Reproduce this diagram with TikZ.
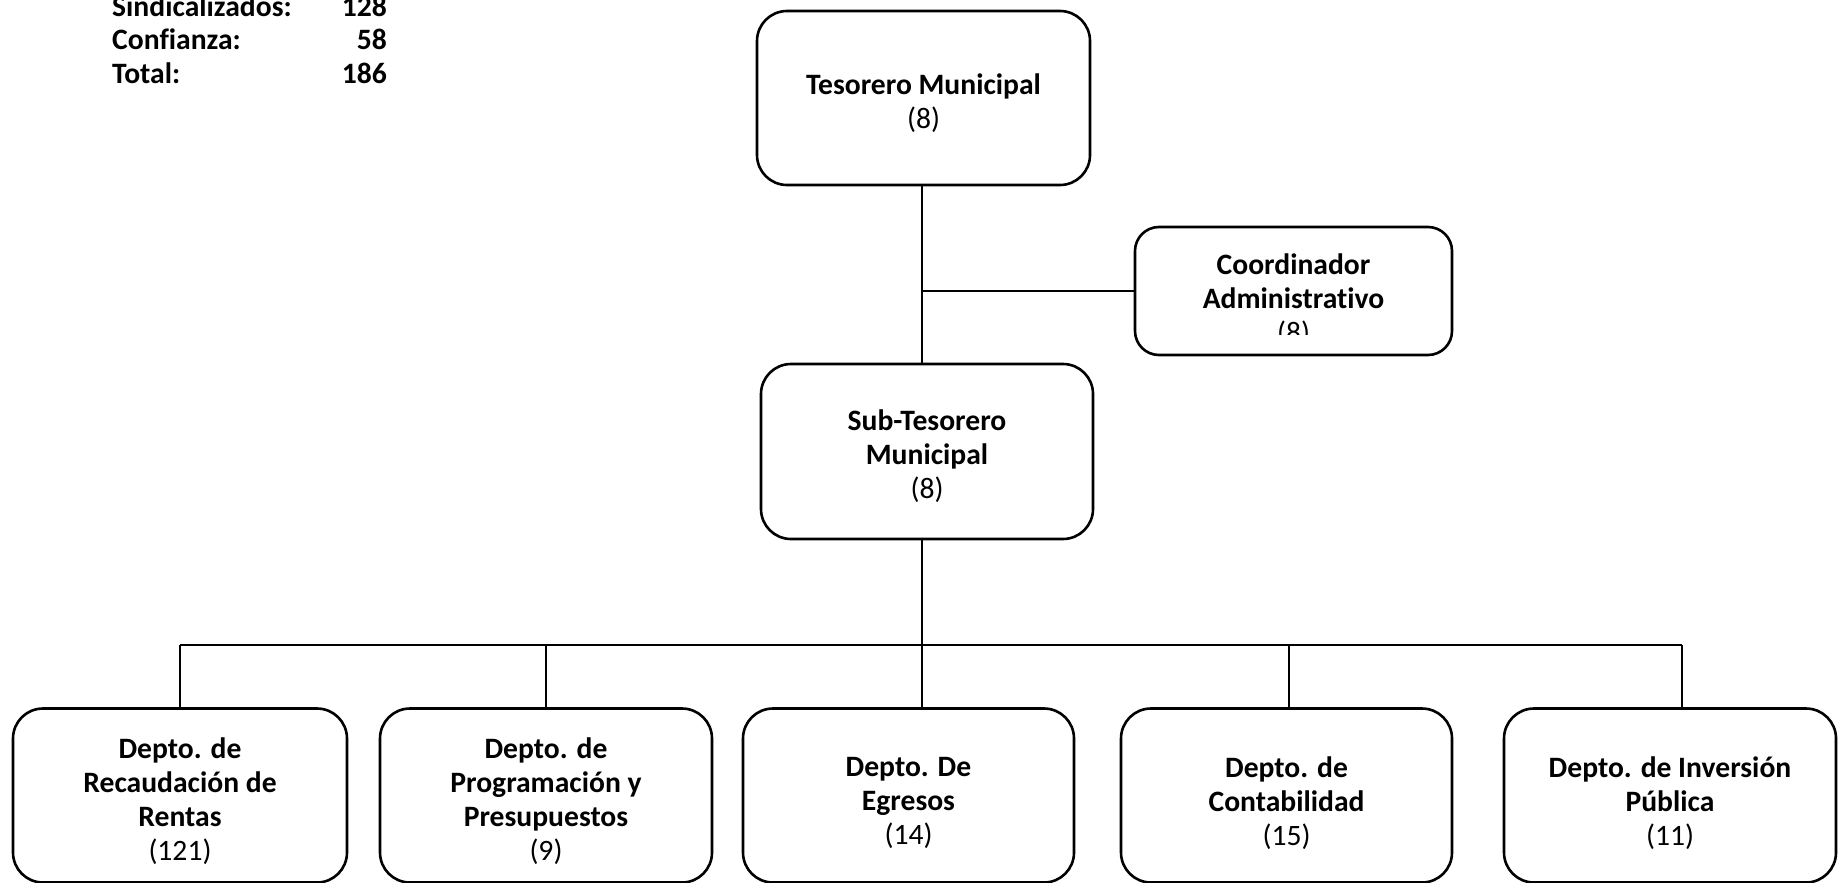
\documentclass[tikz,border=0pt]{standalone}
\usepackage{fontspec}
\setmainfont{Carlito}[Ligatures=NoCommon]
% keep letter pairs that Carlito would join apart
\newcommand{\nolig}{\kern0pt{}}
\begin{document}
\begin{tikzpicture}[x=1pt,y=-1pt,
  box/.style={draw,line width=2.6pt,rounded corners=30pt,inner sep=0pt,
              minimum width=332pt,minimum height=174pt},
  smallbox/.style={draw,line width=2.6pt,rounded corners=24pt,inner sep=0pt,
              minimum width=317pt,minimum height=128pt},
  lbl/.style={align=center,inner sep=0pt,font=\fontsize{29.6}{34}\selectfont},
  tally/.style={inner sep=0pt,font=\fontsize{29.6}{34}\selectfont\bfseries},
  link/.style={line width=2.6pt}]
\useasboundingbox (0,0) rectangle (1841,883);

% staff tally
\node[tally,anchor=base west] (sindL) at (112,17) {Sindicalizados:};
\node[tally,anchor=base east] (sindN) at (387,17) {128};
\node[tally,anchor=base west] (confL) at (112,50) {Conf\nolig ianza:};
\node[tally,anchor=base east] (confN) at (387,50) {58};
\node[tally,anchor=base west] (totL) at (112,83) {Total:};
\node[tally,anchor=base east] (totN) at (387,83) {186};

% trunk line position
\coordinate (trunk) at (922,0);

% top levels
\node[box,minimum width=333pt] (tes) at (923.5,98) {};
\node[lbl] (tesT) at (923.5,103) {\textbf{Tesorero Municipal}\\(8)};

\node[smallbox] (coord) at (1293.5,291) {};
\begin{scope}
  \clip (1135,227) rectangle (1452,334);
  \node[lbl] (coordT) at (1293.5,300) {\textbf{Coordinador}\\\textbf{Administrat\nolig ivo}\\(8)};
\end{scope}

\node[box,minimum height=175pt] (sub) at (927,451.5) {};
\node[lbl] (subT) at (927,456) {\textbf{Sub-Tesorero}\\\textbf{Municipal}\\(8)};

% departments
\node[box,minimum width=334pt] (d1) at (180,795.5) {};
\node[box] (d2) at (546,795.5) {};
\node[box,minimum width=331pt] (d3) at (908.5,795.5) {};
\node[box,minimum width=331pt] (d4) at (1286.5,795.5) {};
\node[box] (d5) at (1670,795.5) {};

\node[lbl] (d1T) at (180,801) {\textbf{Depto. de}\\\textbf{Recaudación de}\\\textbf{Rentas}\\(121)};
\node[lbl] (d2T) at (546,801) {\textbf{Depto. de}\\\textbf{Programación y}\\\textbf{Presupuestos}\\(9)};
\node[lbl] (d3T) at (908.5,803) {\textbf{Depto. De}\\\textbf{Egresos}\\(14)};
\node[lbl] (d4T) at (1286.5,803) {\textbf{Depto. de}\\\textbf{Contabilidad}\\(15)};
\node[lbl] (d5T) at (1670,803) {\textbf{Depto. de Inversión}\\\textbf{Pública}\\(11)};

% connectors
\coordinate (bus) at (0,645);
\coordinate (x1) at (180,0);
\coordinate (x2) at (546,0);
\coordinate (x4) at (1289,0);
\coordinate (x5) at (1682,0);

\draw[link] (tes.south -| trunk) -- (sub.north -| trunk);
\draw[link] (coord.west -| trunk) -- (coord.west);
\draw[link] (sub.south -| trunk) -- (d3.north -| trunk);
\draw[link] (bus -| x1) -- (bus -| x5);
\draw[link] (bus -| x1) -- (d1.north -| x1);
\draw[link] (bus -| x2) -- (d2.north -| x2);
\draw[link] (bus -| x4) -- (d4.north -| x4);
\draw[link] (bus -| x5) -- (d5.north -| x5);
\end{tikzpicture}
\end{document}
